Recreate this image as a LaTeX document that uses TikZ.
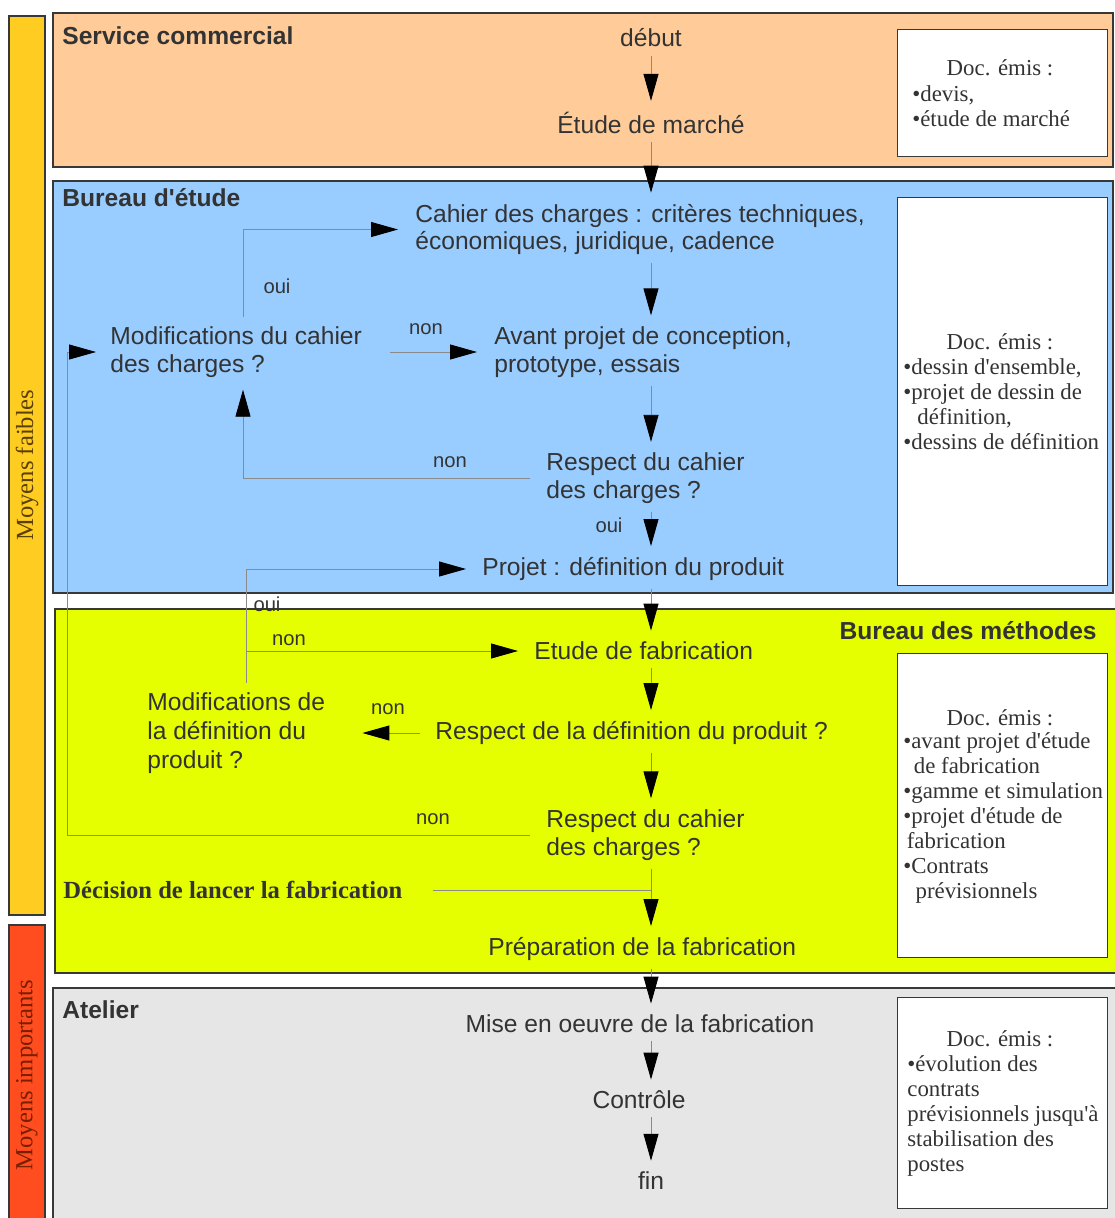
\documentclass[tikz,border=0pt]{standalone}
\usepackage{fontspec}
\newfontfamily\sansf{Liberation Sans}
\newfontfamily\serif{Liberation Serif}
\usetikzlibrary{arrows.meta}
\definecolor{txt}{HTML}{333333}
\definecolor{peach}{HTML}{FFCC99}
\definecolor{sky}{HTML}{99CCFF}
\definecolor{lime}{HTML}{E6FF00}
\definecolor{lgray}{HTML}{E6E6E6}
\definecolor{amber}{HTML}{FFCC22}
\definecolor{redor}{HTML}{FF4D1F}
\definecolor{bord}{HTML}{383838}
\definecolor{connc}{HTML}{8A8A8A}
\definecolor{mftxt}{HTML}{5A4000}
\definecolor{mitxt}{HTML}{7A1E00}
\begin{document}
\begin{tikzpicture}[x=0.02cm,y=-0.02cm,
  band/.style={draw=bord, line width=0.7pt},
  lbl/.style={font=\sansf\fontsize{14}{15.8}\selectfont, text=txt, inner sep=0pt},
  stepbox/.style={lbl, align=left, anchor=west},
  ttl/.style={font=\sansf\bfseries\fontsize{14}{16}\selectfont, text=txt, inner sep=0pt, anchor=west},
  yn/.style={font=\sansf\fontsize{11.5}{13}\selectfont, text=txt, inner sep=0pt},
  docbox/.style={draw=bord, fill=white, line width=0.7pt, anchor=north west, minimum width=4.2cm, inner sep=0pt},
  dochead/.style={font=\serif\fontsize{13}{14.2}\selectfont, text=txt, inner sep=0pt},
  doclist/.style={font=\serif\fontsize{13}{14.2}\selectfont, text=txt, inner sep=0pt, align=left, anchor=west},
  conn/.style={draw=connc, line width=0.5pt},
  arr/.style={conn, -{Triangle[length=0.54cm, width=0.3cm, color=black]}},
  varr/.style={arr, shorten <=0.16cm, shorten >=0.22cm},
]
\useasboundingbox (0,0) rectangle (1115,1218);

% left bars
\fill[amber] (9,16) rectangle (45,915);
\draw[band] (9,16) rectangle (45,915);
\fill[redor] (9,925) rectangle (45,1240);
\draw[band] (9,925) rectangle (45,1240);
\node[rotate=90, font=\serif\fontsize{14}{16}\selectfont, text=mftxt, inner sep=0pt] (mf) at (27,465) {Moyens faibles};
\node[rotate=90, font=\serif\fontsize{14}{16}\selectfont, text=mitxt, inner sep=0pt] (mi) at (27,1075) {Moyens importants};

% bands
\fill[peach] (53,13) rectangle (1113,167);
\draw[band] (53,13) rectangle (1113,167);
\fill[sky] (53,181) rectangle (1113,593);
\draw[band] (53,181) rectangle (1113,593);
\fill[lime] (55,609) rectangle (1125,973);
\draw[band] (55,609) rectangle (1125,973);
\fill[lgray] (53,988) rectangle (1125,1240);
\draw[band] (53,988) rectangle (1125,1240);

\coordinate (sp) at (651,0);
\coordinate (v1) at (243,0);
\coordinate (v2) at (246,0);
\coordinate (v3) at (67,0);

% Service commercial
\node[ttl] (tsc) at (62,36) {Service commercial};
\node[lbl] (debut) at (651,38) {début};
\node[lbl] (etude) at (651,123) {Étude de marché};
\node[docbox, minimum height=2.54cm] (doc1) at (897,29) {};
\node[dochead] (doc1h) at (1000,68) {Doc. émis :};
\node[doclist] (doc1l) at (912,106) {•devis,\\•étude de marché};

% Bureau d'etude
\node[ttl] (tbe) at (62,198) {Bureau d'étude};
\node[stepbox] (cahier) at (415,229.5) {Cahier des charges : critères techniques,\\économiques, juridique, cadence};
\node[stepbox] (mod1) at (110,352) {Modifications du cahier\\des charges ?};
\node[stepbox] (avant) at (494,352) {Avant projet de conception,\\prototype, essais};
\node[stepbox] (resp1) at (546,478.5) {Respect du cahier\\des charges ?};
\node[stepbox] (projet) at (482,569) {Projet : définition du produit};
\node[yn] (oui1) at (277,286) {oui};
\node[yn] (non1) at (426,329) {non};
\node[yn] (non2) at (450,462) {non};
\node[yn] (oui2) at (609,525) {oui};
\node[docbox, minimum height=7.76cm] (doc2) at (897,197) {};
\node[dochead] (doc2h) at (1000,342) {Doc. émis :};
\node[doclist] (doc2l) at (903,404.5) {•dessin d'ensemble,\\•projet de dessin de\\\hspace*{8pt}définition,\\•dessins de définition};

% Bureau des methodes
\node[ttl, anchor=east] (tbm) at (1097,631) {Bureau des méthodes};
\node[stepbox] (etudefab) at (534,651) {Etude de fabrication};
\node[stepbox] (respdef) at (435,733) {Respect de la définition du produit ?};
\node[stepbox, font=\sansf\fontsize{14}{16.5}\selectfont] (mod2) at (147,733) {Modifications de\\la définition du\\produit ?};
\node[stepbox] (resp2) at (546,835) {Respect du cahier\\des charges ?};
\node[font=\serif\bfseries\fontsize{14}{16}\selectfont, text=txt, inner sep=0pt, anchor=west] (dec) at (63,890) {Décision de lancer la fabrication};
\node[stepbox] (prep) at (488,949) {Préparation de la fabrication};
\node[yn] (oui3) at (267,604) {oui};
\node[yn] (non3) at (289,640) {non};
\node[yn] (non4) at (388,709) {non};
\node[yn] (non5) at (433,819) {non};
\node[docbox, minimum height=6.08cm] (doc3) at (897,653) {};
\node[dochead] (doc3h) at (1000,718) {Doc. émis :};
\node[doclist] (doc3l) at (903,818) {•avant projet d'étude\\\hspace*{6pt}de fabrication\\•gamme et simulation\\•projet d'étude de\\\hspace*{2pt}fabrication\\•Contrats\\\hspace*{7pt}prévisionnels};

% Atelier
\node[ttl] (tat) at (62,1010) {Atelier};
\node[lbl] (mise) at (640,1024) {Mise en oeuvre de la fabrication};
\node[lbl] (controle) at (639,1100) {Contrôle};
\node[lbl] (fin) at (651,1181) {fin};
\node[docbox, minimum height=4.22cm] (doc4) at (897,997) {};
\node[dochead] (doc4h) at (1000,1039) {Doc. émis :};
\node[doclist] (doc4l) at (907,1116) {•évolution des\\contrats\\prévisionnels jusqu'à\\stabilisation des\\postes};

% main vertical arrows
\draw[varr] (debut.south -| sp) -- (etude.north -| sp);
\draw[varr] (etude.south -| sp) -- (cahier.north -| sp);
\draw[varr] (cahier.south -| sp) -- (avant.north -| sp);
\draw[varr] (avant.south -| sp) -- (resp1.north -| sp);
\draw[varr] (resp1.south -| sp) -- (projet.north -| sp);
\draw[varr] (projet.south -| sp) -- (etudefab.north -| sp);
\draw[varr] (etudefab.south -| sp) -- (respdef.north -| sp);
\draw[varr] (respdef.south -| sp) -- (resp2.north -| sp);
\draw[varr] (resp2.south -| sp) -- (prep.north -| sp);
\draw[varr] (prep.south -| sp) -- (mise.north -| sp);
\draw[varr] (mise.south -| sp) -- (controle.north -| sp);
\draw[varr] (controle.south -| sp) -- (fin.north -| sp);

% loops
\draw[arr, shorten <=0.18cm, shorten >=0.34cm] (mod1.north -| v1) |- (cahier.west);
\draw[arr, shorten <=0.56cm, shorten >=0.34cm] (mod1.east) -- (avant.west);
\draw[arr, shorten <=0.32cm, shorten >=0.24cm] (resp1.west) -- (resp1.west -| v1) -- (mod1.south -| v1);
\draw[arr, shorten <=0.32cm, shorten >=0.28cm] (resp2.west) -- (resp2.west -| v3) |- (mod1.west);
\draw[arr, shorten <=0.18cm, shorten >=0.32cm] (mod2.north -| v2) |- (projet.west);
\draw[arr, shorten <=0.18cm, shorten >=0.32cm] (mod2.north -| v2) |- (etudefab.west);
\draw[arr, shorten <=0.3cm, shorten >=0.74cm] (respdef.west) -- (mod2.east |- respdef.west);
\draw[conn, shorten <=0.6cm] (dec.east) -- (dec.east -| sp);
\end{tikzpicture}
\end{document}
